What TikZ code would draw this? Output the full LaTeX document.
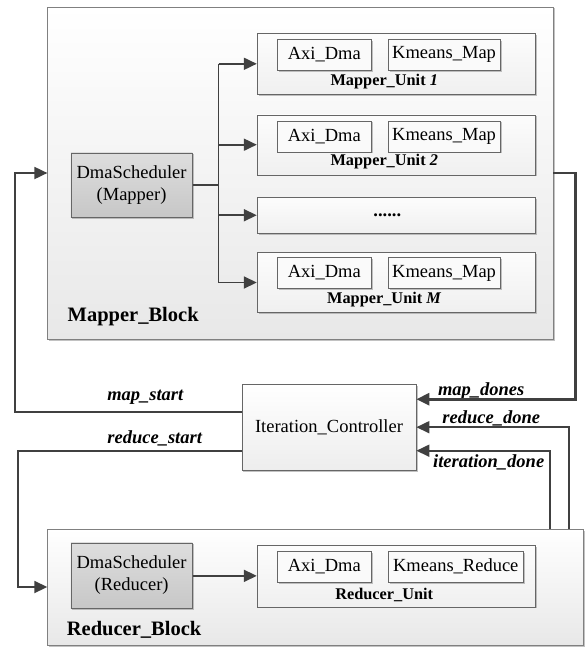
\documentclass[tikz,border=0pt]{standalone}
\usepackage{fontspec}
\setmainfont{Liberation Serif}
\usetikzlibrary{shapes, arrows.meta, positioning, shadows}
\newcommand{\bigtxt}{\fontsize{18.5pt}{22pt}\selectfont}
\newcommand{\unittxt}{\fontsize{16.3pt}{19pt}\selectfont\bfseries}
\newcommand{\blocktxt}{\fontsize{20.5pt}{24pt}\selectfont\bfseries}
\newcommand{\sigtxt}{\fontsize{18.5pt}{22pt}\selectfont\bfseries\itshape}
\tikzstyle{boxshadow} = [drop shadow={shadow xshift=1.5pt, shadow yshift=-1.5pt, fill=black!40, opacity=0.6}]
\tikzstyle{block} = [draw=black!50, rectangle, top color=white, bottom color=black!9, boxshadow, inner sep=0pt]
\tikzstyle{unit} = [draw=black!60, rectangle, top color=black!1, bottom color=black!6, boxshadow, inner sep=0pt, minimum width=278.5pt]
\tikzstyle{cell} = [draw=black!60, rectangle, fill=black!2, boxshadow, inner sep=0pt, minimum height=31pt, font=\bigtxt]
\tikzstyle{sched} = [draw=black!60, rectangle, top color=black!13, bottom color=black!22, boxshadow, inner sep=0pt, minimum width=121.4pt, align=center, font=\bigtxt]
\tikzstyle{ctrl} = [draw=black!60, rectangle, top color=white, bottom color=black!7, boxshadow, inner sep=0pt, font=\bigtxt]
\tikzstyle{unitlabel} = [inner sep=0pt, font=\unittxt]
\tikzstyle{blocklabel} = [inner sep=0pt, font=\blocktxt]
\tikzstyle{sig} = [inner sep=0pt, font=\sigtxt]
\tikzstyle{wire} = [draw=black!75, line width=1.8pt]
\tikzstyle{line} = [draw=black!75, line width=1.8pt, -{Triangle[length=13pt, width=12pt]}]

\begin{document}
\begin{tikzpicture}[x=1pt, y=-1pt]
	\useasboundingbox (0,0) rectangle (585,648);

	% outer blocks
	\node [block, minimum width=505.4pt, minimum height=332.6pt] (mapper) at (300.3,173) {};
	\node [block, minimum width=536pt, minimum height=116pt] (reducer) at (315.5,587) {};
	\node [ctrl, minimum width=174.4pt, minimum height=85.7pt] (ctrl) at (329,427.2) {Iteration\_Controller};
	\node [blocklabel, anchor=base west] (mapperlbl) at (67.5,321) {Mapper\_Block};
	\node [blocklabel, anchor=base west] (reducerlbl) at (66.7,635) {Reducer\_Block};

	% mapper block
	\node [sched, minimum height=64.6pt] (schedm) at (131.6,185) {DmaScheduler\\(Mapper)};
	\node [unit, minimum height=61pt] (unit1) at (396.25,63.8) {};
	\node [unit, minimum height=60pt, below=20pt of unit1] (unit2) {};
	\node [unit, minimum height=36.3pt, below=22pt of unit2] (dots) {};
	\node [unit, minimum height=60pt, below=18.7pt of dots] (unitm) {};

	\node [cell, minimum width=93.5pt, below right=6pt and 20.5pt of unit1.north west] (axi1) {Axi\_Dma};
	\node [cell, minimum width=112pt, right=16.7pt of axi1] (kmap1) {Kmeans\_Map};
	\node [unitlabel, above=5.5pt of unit1.south, xshift=-12pt] (lbl1) {Mapper\_Unit \textit{1}};

	\node [cell, minimum width=93.5pt, below right=6pt and 20.5pt of unit2.north west] (axi2) {Axi\_Dma};
	\node [cell, minimum width=112pt, right=16.7pt of axi2] (kmap2) {Kmeans\_Map};
	\node [unitlabel, above=5.5pt of unit2.south, xshift=-12pt] (lbl2) {Mapper\_Unit \textit{2}};

	\node [inner sep=0pt, font=\bigtxt\bfseries, xshift=-9pt] (dotstxt) at (dots.center) {......};

	\node [cell, minimum width=93.5pt, below right=5pt and 20.5pt of unitm.north west] (axim) {Axi\_Dma};
	\node [cell, minimum width=112pt, right=16.7pt of axim] (kmapm) {Kmeans\_Map};
	\node [unitlabel, above=5.5pt of unitm.south, xshift=-12pt] (lblm) {Mapper\_Unit \textit{M}};

	% reducer block
	\node [sched, minimum height=65.6pt] (schedr) at (131.6,575.5) {DmaScheduler\\(Reducer)};
	\node [unit, minimum height=61.7pt] (runit) at (396.25,575.85) {};
	\node [cell, minimum width=93.5pt, below right=6pt and 20.5pt of runit.north west] (axir) {Axi\_Dma};
	\node [cell, minimum width=135.3pt, right=16.7pt of axir] (kred) {Kmeans\_Reduce};
	\node [unitlabel, above=5pt of runit.south, xshift=-12pt] (rlbl) {Reducer\_Unit};

	% signal labels
	\node [sig] (mapstart) at (145.3,397.3) {map\_start};
	\node [sig] (reducestart) at (154.7,438.3) {reduce\_start};
	\node [sig] (mapdones) at (481.2,390.8) {map\_dones};
	\node [sig] (reducedone) at (491.3,418.3) {reduce\_done};
	\node [sig] (iterdone) at (488.7,462.2) {iteration\_done};

	% connections
	\path [wire] (schedm.east) -- ++(26,0) coordinate (fork);
	\path [wire] (fork |- unit1.west) -- (fork |- unitm.west);
	\path [line] (fork |- unit1.west) -- (unit1.west);
	\path [line] (fork |- unit2.west) -- (unit2.west);
	\path [line] (fork |- dots.west) -- (dots.west);
	\path [line] (fork |- unitm.west) -- (unitm.west);
	\path [line] (schedr.east |- runit.west) -- (runit.west);

	\path [line] ([yshift=15.5pt]ctrl.west) -| ([xshift=-32.6pt]mapper.west) -- (mapper.west);
	\path [line] ([yshift=-23.5pt]ctrl.west) -| ([xshift=-29.6pt]reducer.west) -- (reducer.west);
	\path [line, line width=2.8pt] (mapper.east) -- ++(22,0) |- ([yshift=28pt]ctrl.east);
	\path [line] ([xshift=-14.7pt]reducer.north east) |- (ctrl.east);
	\path [line] ([xshift=-33.8pt]reducer.north east) |- ([yshift=-23.5pt]ctrl.east);
\end{tikzpicture}
\end{document}
